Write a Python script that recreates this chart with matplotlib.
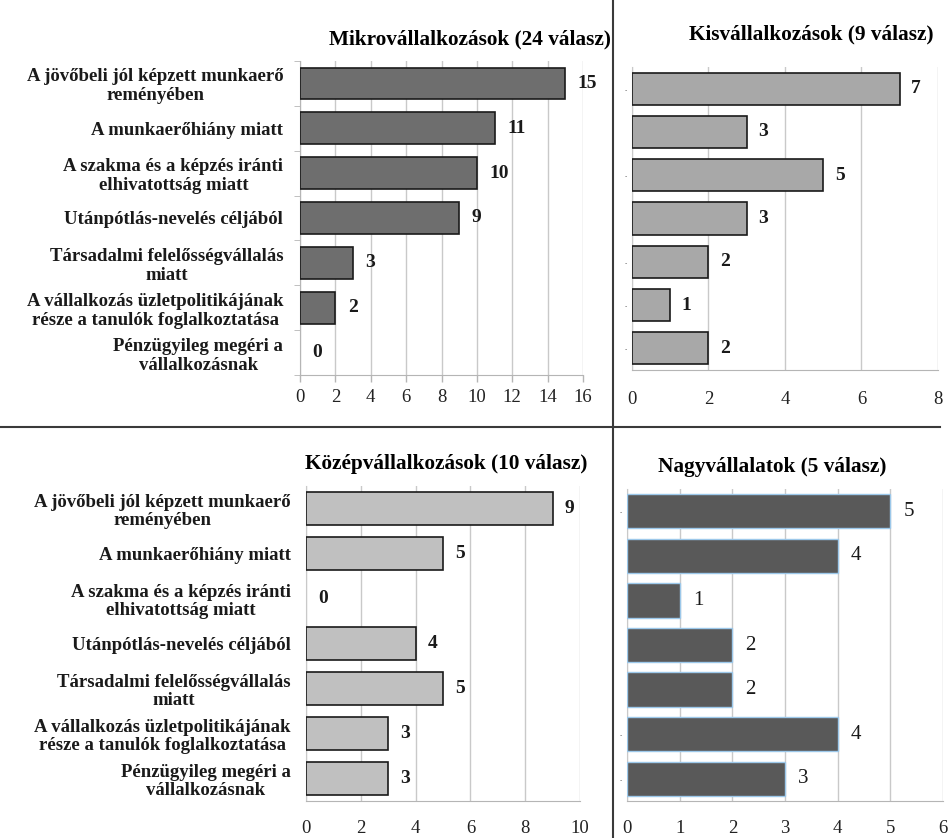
import matplotlib
matplotlib.use("Agg")
import matplotlib.pyplot as plt
from matplotlib.lines import Line2D

plt.rcParams['font.family'] = ['Liberation Serif', 'DejaVu Serif']

categories = [
    'A jövőbeli jól képzett munkaerő\nreményében',
    'A munkaerőhiány miatt',
    'A szakma és a képzés iránti\nelhivatottság miatt',
    'Utánpótlás-nevelés céljából',
    'Társadalmi felelősségvállalás\nmiatt',
    'A vállalkozás üzletpolitikájának\nrésze a tanulók foglalkoztatása',
    'Pénzügyileg megéri a\nvállalkozásnak',
]
mikro = [15, 11, 10, 9, 3, 2, 0]
kis = [7, 3, 5, 3, 2, 1, 2]
kozep = [9, 5, 0, 4, 5, 3, 3]
nagy = [5, 4, 1, 2, 2, 4, 3]

titles = ['Mikrovállalkozások (24 válasz)', 'Kisvállalkozások (9 válasz)',
          'Középvállalkozások (10 válasz)', 'Nagyvállalatok (5 válasz)']

W, H = 953, 838
fig = plt.figure(figsize=(W / 100, H / 100), dpi=100)
GRID = '#c9c9c9'
TITLE_SIZE = 15.3


def px_axes(left, top, right, bottom):
    return fig.add_axes([left / W, 1 - bottom / H, (right - left) / W, (bottom - top) / H])


def panel(ax, values, xmax, step, color, edge, lw, height, bold_vals=True,
          offset=0.0, show_labels=False, stub_rows=(), tick_pad=4):
    y = list(range(len(values)))
    # zero-length bars get no outline so they stay invisible
    widths = [lw if v > 0 else 0 for v in values]
    ax.barh(y, values, height=height, color=color, edgecolor=edge, linewidth=widths,
            zorder=3)
    ax.set_xlim(0, xmax)
    ax.set_ylim(len(values) - 0.5, -0.5)
    ax.set_xticks(range(0, xmax + 1, step))
    ax.xaxis.grid(True, color=GRID, linewidth=1.0, zorder=0)
    ax.set_axisbelow(True)
    for s in ['top', 'right']:
        ax.spines[s].set_visible(False)
    ax.spines['left'].set_color(GRID)
    ax.spines['bottom'].set_color('#b5b5b5')
    ax.tick_params(axis='x', labelsize=13.5, colors='#b5b5b5', labelcolor='#222222',
                   length=0, pad=tick_pad)
    ax.set_yticks(y)
    if show_labels:
        ax.set_yticklabels(categories, fontsize=13.5, fontweight='bold', color='#1a1a1a',
                           multialignment='center', linespacing=1.15)
    else:
        ax.set_yticklabels(['..' if i in stub_rows else '' for i in y], fontsize=5,
                           color='#333333')
    ax.tick_params(axis='y', length=0, pad=3)
    for v, yy in zip(values, y):
        ax.text(v + offset, yy, str(v), va='center', ha='left',
                fontsize=14 if bold_vals else 15,
                fontweight='bold' if bold_vals else 'normal', color='#1a1a1a', zorder=4)


# top left: micro enterprises
ax1 = px_axes(300, 61, 583, 375)
panel(ax1, mikro, 16, 2, '#6e6e6e', '#1a1a1a', 1.2, 0.71, offset=0.7,
      show_labels=True)
ax1.spines['left'].set_color('#b5b5b5')
ax1.set_yticks([i - 0.5 for i in range(8)], minor=True)
ax1.tick_params(axis='y', which='minor', length=4, color='#b5b5b5', direction='out')
ax1.tick_params(axis='y', which='major', pad=12)
ax1.tick_params(axis='x', length=5, width=1.0, direction='out', pad=5)
ax1.set_title(titles[0], fontsize=TITLE_SIZE, fontweight='bold', loc='right',
              x=1.1, y=1.0, pad=12)

# top right: small enterprises
ax2 = px_axes(632, 67, 938, 370)
panel(ax2, kis, 8, 2, '#a8a8a8', '#1a1a1a', 1.2, 0.74, offset=0.3,
      stub_rows=(0, 2, 4, 5, 6), tick_pad=15)
ax2.set_title(titles[1], fontsize=TITLE_SIZE, fontweight='bold', x=0.587, pad=20)

# bottom left: medium enterprises
ax3 = px_axes(306, 486, 580, 801)
panel(ax3, kozep, 10, 2, '#c0c0c0', '#1a1a1a', 1.2, 0.73, offset=0.45,
      show_labels=True, tick_pad=14)
ax3.tick_params(axis='y', which='major', pad=11)
ax3.set_title(titles[2], fontsize=TITLE_SIZE, fontweight='bold', x=0.51, pad=12)

# bottom right: large companies
ax4 = px_axes(627, 489, 943, 801)
panel(ax4, nagy, 6, 1, '#595959', '#9cc8ea', 1.0, 0.77, bold_vals=False,
      offset=0.25, stub_rows=(0, 5, 6), tick_pad=14)
ax4.set_title(titles[3], fontsize=TITLE_SIZE, fontweight='bold', x=0.46, pad=12)

# separators between the four panels
fig.add_artist(Line2D([613 / W, 613 / W], [0, 1], color='#3a3a3a', linewidth=1.5))
fig.add_artist(Line2D([0, 940 / W], [1 - 427 / H, 1 - 427 / H], color='#3a3a3a',
                      linewidth=1.5))

fig.savefig('out.png', dpi=100)
